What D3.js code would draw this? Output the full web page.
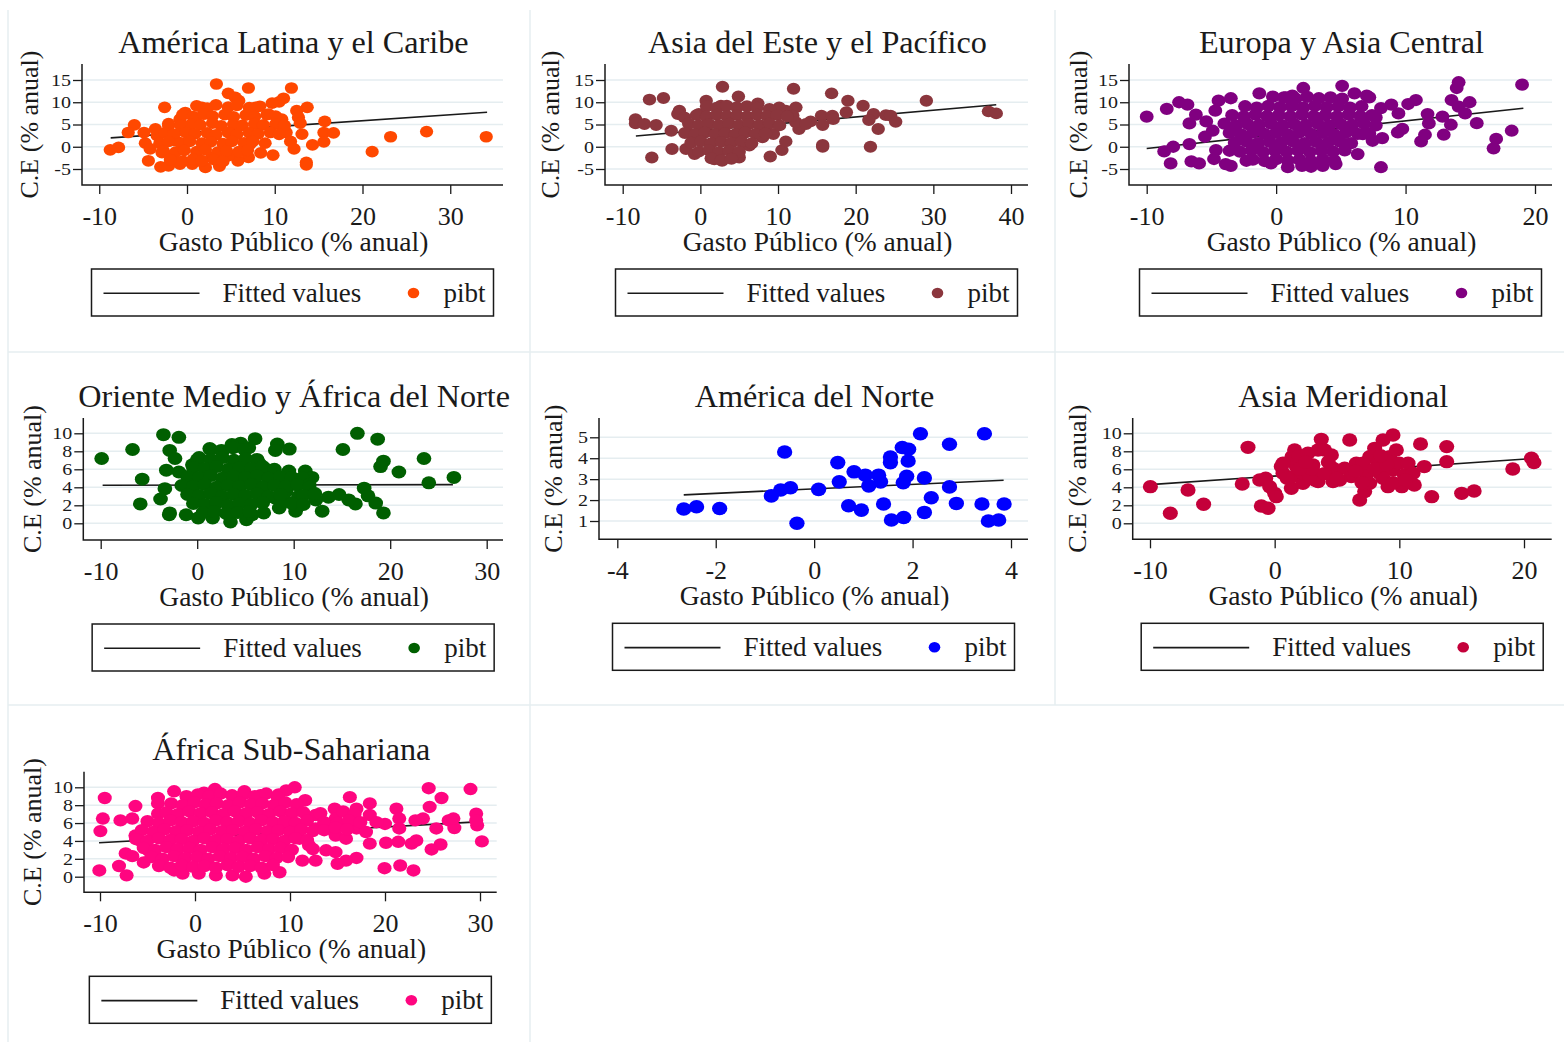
<!DOCTYPE html>
<html>
<head>
<meta charset="utf-8">
<script src="https://cdn.jsdelivr.net/npm/d3@7"></script>
<style>
  body { margin: 0; background: #fff; }
  svg { display: block; font-family: "Liberation Serif", "Times New Roman", serif; }
</style>
</head>
<body>
<svg id="chart" width="1564" height="1042"></svg>
<script>
// ---- data ----
const titles = ["América Latina y el Caribe", "Asia del Este y el Pacífico", "Europa y Asia Central",
  "Oriente Medio y África del Norte", "América del Norte", "Asia Meridional", "África Sub-Sahariana"];
const colors = ["#ff4800", "#8b363d", "#800080", "#005f00", "#0000ff", "#c4003a", "#ff0580"];

const xTicks = [[-10, 0, 10, 20, 30], [-10, 0, 10, 20, 30, 40], [-10, 0, 10, 20],
  [-10, 0, 10, 20, 30], [-4, -2, 0, 2, 4], [-10, 0, 10, 20], [-10, 0, 10, 20, 30]];
const yTicks = [[-5, 0, 5, 10, 15], [-5, 0, 5, 10, 15], [-5, 0, 5, 10, 15],
  [0, 2, 4, 6, 8, 10], [1, 2, 3, 4, 5], [0, 2, 4, 6, 8, 10], [0, 2, 4, 6, 8, 10]];

// fitted line end points
const fits = [[[-8.7, 2.0], [34.2, 7.75]], [[-8.3, 2.4], [38.1, 9.45]], [[-10, -0.4], [19.1, 8.65]],
  [[-9.8, 4.22], [26.5, 4.3]], [[-2.65, 2.25], [3.85, 2.95]], [[-10, 4.3], [20.7, 7.2]], [[-10.1, 3.8], [29.2, 6.1]]];

const latamPts = [[3.35,14.1],[7.0,13.2],[11.9,13.2],[4.7,12.0],[5.5,11.1],[11.0,10.9],[10.5,10.1],[9.7,9.8],[-2.55,8.85],[13.7,8.85],
  [12.5,8.1],[12.7,6.6],[12.9,5.3],[15.7,5.7],[-6.0,4.9],[-6.7,3.2],[-7.8,-0.15],[-8.75,-0.7],[15.6,3.2],[16.7,3.1],
  [15.6,1.1],[13.1,2.85],[14.3,0.4],[12.2,-0.5],[11.3,3.2],[11.8,1.2],[13.6,-3.5],[13.6,-4.05],[21.1,-1.1],[23.2,2.25],
  [27.3,3.4],[34.1,2.25],[9.8,-1.9],[8.4,-1.4],[7.0,-2.4],[5.8,-3.15],[3.7,-4.35],[2.1,-4.65],[0.6,-3.9],[-0.8,-3.9],
  [-2.1,-4.3],[-3.0,-4.5],[-4.4,-3.15],[-4.75,0.8],[-4.9,3.2],[-3.4,2.5],[-4.2,-0.5],[-2.85,-1.3],[-1.7,-2.0],[1.3,-3.2],
  [2.85,-2.4],[4.75,-2.0],[7.2,0.6],[7.8,8.85],[5.9,10.35],[1.7,8.85],[-0.2,7.7],[-0.8,6.2],[0.95,5.85],[10.8,6.2],
  [9.3,7.35],[-2.1,4.7],[-3.6,4.0],[-0.6,3.6],[-1.3,1.35],
  [1.1,9.2],[2.3,8.7],[3.3,9.4],[4.7,8.9],[5.7,9.3],[7.1,8.8],[8.3,9.1],
  [-0.5,7.2],[0.7,6.8],[1.9,7.3],[2.9,6.9],[4.3,7.2],[5.3,6.7],[6.7,7.1],[7.7,6.8],[9.1,7.2],[10.1,6.9],
  [-2.1,5.2],[-0.7,4.8],[0.5,5.1],[1.5,4.9],[2.9,5.3],[3.9,4.7],[5.3,5.1],[6.3,4.8],[7.7,5.2],[8.7,4.9],[10.1,5.1],[11.1,4.8],
  [-2.5,3.1],[-1.5,2.8],[-0.1,3.2],[0.9,2.9],[2.3,3.1],[3.3,2.7],[4.7,3.2],[5.7,2.8],[7.1,3.1],[8.1,2.9],[9.5,3.2],[10.5,2.8],
  [-3.1,0.8],[-2.1,1.2],[-0.7,0.9],[0.3,1.2],[1.7,0.8],[2.7,1.1],[4.1,0.7],[5.1,1.2],[6.5,0.9],[7.5,1.2],[8.9,0.8],
  [-2.7,-0.9],[-1.3,-1.2],[-0.3,-0.8],[1.1,-1.1],[2.1,-0.7],[3.5,-1.2],[4.5,-0.9],[5.9,-1.1],[6.9,-0.8],
  [-1.9,-2.9],[-0.5,-3.2],[0.7,-2.8],[1.7,-3.1],[3.1,-2.9],[4.1,-3.3]];

const eapPts = [[-8.35,6.2],[-8.35,5.25],[-7.2,5.1],[-6.55,10.6],[-4.75,10.95],[-5.7,4.9],[-6.25,-2.4],[-3.75,3.6],[-3.65,-0.5],[-2.7,8.1],
  [-2.9,7.35],[-2.05,6.6],[-1.85,-0.5],[-0.75,-1.65],[0.75,10.35],[2.85,13.5],[4.9,11.3],[2.65,9.2],[-0.2,7.35],[-1.6,3.2],
  [1.8,-2.8],[2.8,-3.15],[5.0,-2.4],[4.9,-1.8],[6.3,0.25],[8.0,2.1],[9.4,2.85],[9.0,-2.2],[10.5,-0.75],[11.0,1.2],
  [12.0,13.05],[12.3,8.85],[12.7,4.0],[14.2,5.7],[15.6,7.0],[15.75,4.9],[15.75,0.4],[15.75,0.0],[16.9,12.0],[17.0,7.0],
  [17.1,6.2],[18.8,7.75],[19.0,10.35],[20.95,9.2],[22.3,7.35],[21.7,6.0],[21.9,0.0],[22.9,4.0],[23.9,7.1],[24.5,7.0],
  [25.15,5.6],[29.1,10.35],[37.1,7.95],[38.1,7.5],[11.0,8.1],[10.15,8.85],[7.4,9.75],[8.9,8.5],[12.3,5.5],[13.6,5.1],[11.9,7.0],
  [0.8,9.1],[2.1,8.8],[3.4,9.2],[4.7,8.9],[6.0,9.1],[7.3,8.8],
  [-0.5,7.1],[0.8,6.8],[2.1,7.2],[3.4,6.9],[4.7,7.1],[6.0,6.8],[7.3,7.2],[8.6,6.9],[9.9,7.1],[11.2,6.8],
  [-1.5,5.2],[-0.2,4.8],[1.1,5.1],[2.4,4.9],[3.7,5.2],[5.0,4.8],[6.3,5.1],[7.6,4.9],[8.9,5.2],[10.2,4.8],
  [-2.0,3.1],[-0.7,2.8],[0.6,3.2],[1.9,2.9],[3.2,3.1],[4.5,2.8],[5.8,3.2],[7.1,2.9],[8.4,3.0],
  [-1.2,0.9],[0.1,1.2],[1.4,0.8],[2.7,1.1],[4.0,0.9],[5.3,1.2],[6.6,0.8],
  [-0.2,-1.1],[1.1,-0.8],[2.4,-1.2],[3.7,-0.9],[5.0,-1.1],
  [1.4,-2.6],[2.7,-3.0],[4.0,-2.7]];

const ecaPts = [[-10.0,6.75],[-8.45,8.5],[-7.5,10.0],[-6.85,9.45],[-6.2,7.2],[-6.7,5.25],[-8.65,-1.05],[-8.15,-3.75],[-7.95,0.0],[-6.7,0.6],
  [-6.55,-3.3],[-5.95,-3.75],[-5.5,2.25],[-5.4,5.7],[-4.7,8.1],[-4.45,10.35],[-3.5,10.9],[-4.8,-2.75],[-3.9,-3.9],[-3.5,-4.3],
  [-1.3,12.0],[-0.25,11.25],[0.75,11.1],[2.1,13.2],[1.25,11.5],[5.1,13.7],[6.05,12.0],[7.0,11.5],[7.2,11.1],[8.1,8.7],
  [8.9,9.45],[9.45,7.5],[9.75,4.0],[10.2,9.6],[10.8,10.5],[9.4,3.25],[11.2,1.2],[11.5,2.7],[11.7,7.35],[11.8,5.25],
  [12.85,6.75],[12.95,2.7],[13.5,4.95],[13.55,10.5],[13.95,13.2],[14.1,14.5],[14.1,9.0],[14.6,7.5],[14.95,10.0],[15.5,5.3],
  [16.8,-0.35],[17.0,1.75],[18.2,3.6],[19.0,13.95],[8.1,-4.6],[6.3,-1.65],[4.6,-3.9],[3.6,-4.3],[2.7,-4.5],[2.0,-4.3],
  [0.9,-4.6],[-0.4,-3.75],[-2.3,-3.15],[7.45,1.35],[8.2,1.95],[5.4,0.6],[6.7,2.85],[7.7,6.6],[-4.9,3.6],[-4.65,-0.75],[-3.6,-0.9],
  [0.6,11.1],[1.5,10.8],[2.4,11.2],[3.3,10.9],[4.2,11.1],[5.1,10.8],
  [-2.4,9.1],[-1.5,8.8],[-0.6,9.2],[0.3,8.9],[1.2,9.1],[2.1,8.8],[3.0,9.2],[3.9,8.9],[4.8,9.1],[5.7,8.8],[6.6,9.1],
  [-3.4,7.1],[-2.5,6.8],[-1.6,7.2],[-0.7,6.9],[0.2,7.1],[1.1,6.8],[2.0,7.2],[2.9,6.9],[3.8,7.1],[4.7,6.8],[5.6,7.2],[6.5,6.9],[7.4,7.1],
  [-4.0,5.2],[-3.1,4.8],[-2.2,5.1],[-1.3,4.9],[-0.4,5.2],[0.5,4.8],[1.4,5.1],[2.3,4.9],[3.2,5.2],[4.1,4.8],[5.0,5.1],[5.9,4.9],[6.8,5.2],[7.7,4.8],
  [-3.6,3.1],[-2.7,2.8],[-1.8,3.2],[-0.9,2.9],[0.0,3.1],[0.9,2.8],[1.8,3.2],[2.7,2.9],[3.6,3.1],[4.5,2.8],[5.4,3.2],[6.3,2.9],[7.2,3.0],
  [-3.2,0.9],[-2.3,1.2],[-1.4,0.8],[-0.5,1.1],[0.4,0.9],[1.3,1.2],[2.2,0.8],[3.1,1.1],[4.0,0.9],[4.9,1.2],[5.8,0.8],
  [-2.8,-1.1],[-1.9,-0.8],[-1.0,-1.2],[-0.1,-0.9],[0.8,-1.1],[1.7,-0.8],[2.6,-1.2],[3.5,-0.9],[4.4,-1.1],[5.3,-0.8],
  [-1.8,-2.9],[-0.9,-3.2],[0.0,-2.8],[0.9,-3.1],[1.8,-2.9],[2.7,-3.2],[3.6,-2.8],[4.5,-3.1]];

const menaPts = [[-9.9,7.2],[-6.7,8.2],[-5.7,4.9],[-5.9,2.15],[-3.5,9.85],[-1.9,9.55],[-2.85,8.1],[-2.3,7.2],[-3.2,5.9],[-3.35,3.85],
  [-3.8,2.7],[-2.85,1.15],[-2.9,0.95],[-1.9,5.7],[-0.5,6.5],[0.0,7.05],[-1.15,0.95],[0.1,0.6],[1.6,0.6],[3.45,0.15],
  [5.1,0.4],[6.0,9.4],[8.3,8.8],[9.55,8.25],[8.1,8.1],[15.1,8.2],[16.6,10.0],[18.7,9.35],[19.3,6.9],[19.0,6.3],
  [20.9,5.7],[23.5,7.2],[24.0,4.5],[26.6,5.1],[17.3,3.9],[17.7,3.05],[18.5,2.25],[19.3,1.15],[16.4,2.15],[15.7,2.6],
  [14.7,3.2],[13.6,2.9],[12.95,1.35],[10.2,1.35],[8.5,1.7],[6.9,1.15],[5.7,0.95],[11.2,5.8],[11.9,5.1],[10.9,5.05],
  [9.5,5.8],[10.2,4.3],[11.6,4.3],[9.2,3.55],[8.1,4.3],[7.25,5.96],[6.4,6.7],[7.4,5.2],[8.8,4.85],[6.05,4.3],
  [6.7,3.2],[8.1,2.8],[9.2,2.45],[10.5,3.0],[12.3,2.6],[4.5,8.9],[3.6,8.75],[1.4,8.2],[2.6,8.0],[5.35,8.4],
  [1.3,8.3],[2.5,8.1],[3.7,8.4],[4.9,8.2],
  [0.2,7.3],[1.4,7.1],[2.6,7.3],[3.8,7.0],[5.0,7.2],[6.2,7.1],
  [-0.4,6.2],[0.8,6.1],[2.0,6.3],[3.2,6.0],[4.4,6.2],[5.6,6.1],[6.8,6.3],[8.0,6.0],
  [-1.0,5.2],[0.2,5.1],[1.4,5.3],[2.6,5.0],[3.8,5.2],[5.0,5.1],[6.2,5.3],[7.4,5.0],[8.6,5.2],[9.8,5.1],
  [-1.6,4.2],[-0.4,4.1],[0.8,4.3],[2.0,4.0],[3.2,4.2],[4.4,4.1],[5.6,4.3],[6.8,4.0],[8.0,4.2],[9.2,4.1],[10.4,4.3],[11.6,4.0],
  [-1.0,3.2],[0.2,3.1],[1.4,3.3],[2.6,3.0],[3.8,3.2],[5.0,3.1],[6.2,3.3],[7.4,3.0],[8.6,3.2],[11.0,3.1],[12.2,3.3],
  [-0.4,2.2],[0.8,2.1],[2.0,2.3],[3.2,2.0],[4.4,2.2],[5.6,2.1],[6.8,2.3],[9.8,2.2],[11.0,2.1],
  [0.6,1.2],[1.8,1.3],[3.0,1.1],[4.2,1.2],[5.4,1.3]];

const naPts = [[-2.65,1.57],[-2.39,1.68],[-1.92,1.6],[-0.87,2.2],[-0.68,2.48],[-0.48,2.59],[-0.6,4.3],[-0.35,0.89],[0.09,2.51],[0.48,3.79],
  [0.51,2.87],[0.7,1.73],[0.81,3.35],[0.96,1.52],[1.04,3.19],[1.11,2.68],[1.31,3.19],[1.35,2.87],[1.41,1.81],[1.55,4.06],
  [1.55,3.79],[1.57,1.05],[1.79,4.51],[1.81,2.83],[1.82,1.17],[1.88,3.14],[1.91,3.87],[1.92,4.43],[2.16,5.17],[2.24,3.06],
  [2.24,1.41],[2.38,2.11],[2.75,4.67],[2.75,2.63],[2.89,1.84],[3.41,1.81],[3.46,5.17],[3.54,1.0],[3.75,1.05],[3.86,1.81]];

const sasPts = [[-9.97,4.07],[-8.37,1.11],[-6.95,3.7],[-5.7,2.11],[-2.6,4.37],[-2.14,8.44],[-1.07,1.93],[-0.53,1.67],[-1.2,4.81],[-0.72,5.0],
  [-0.4,4.07],[0.0,3.33],[0.13,2.96],[0.53,6.3],[0.67,5.56],[1.34,3.89],[1.39,7.4],[1.6,8.15],[1.74,6.3],[1.47,5.19],
  [2.27,4.44],[2.27,5.56],[1.95,7.48],[2.67,7.78],[3.07,6.48],[3.21,4.81],[3.48,8.15],[3.74,9.33],[4.0,8.15],[4.55,7.6],
  [3.61,5.37],[3.48,4.63],[4.68,6.11],[4.68,4.63],[5.61,6.11],[6.02,9.26],[6.15,5.19],[6.55,6.67],[6.82,2.59],[7.22,3.52],
  [7.35,5.37],[7.62,7.4],[8.02,8.33],[8.29,6.67],[7.62,4.44],[8.42,5.56],[8.69,9.26],[9.09,4.07],[9.22,7.4],[9.49,9.81],
  [9.76,8.15],[9.49,5.93],[10.0,6.67],[10.2,4.07],[10.4,5.37],[10.7,6.67],[11.1,5.56],[11.2,4.26],[11.7,8.81],[12.0,6.3],
  [12.6,2.96],[13.8,8.52],[13.8,6.85],[15.0,3.33],[16.0,3.59],[19.1,6.04],[20.6,7.22],[20.8,6.74],[8.69,5.0],[7.09,6.67],
  [5.21,4.81],[2.81,5.19],[0.67,6.67],[3.0,6.0],[4.0,5.5],[2.0,6.0],[5.0,5.0],[8.0,6.0],[9.0,6.5],[7.0,4.5],
  [9.5,4.5],[8.5,7.5],[6.5,5.8],[2.5,6.8],[1.0,5.0],[4.3,6.8],[10.5,4.8]];

const ssaPts = [[-9.5,8.8],[-9.7,6.5],[-9.96,5.1],[-10.07,0.7],[-8.0,1.2],[-7.2,0.15],[-7.85,6.3],[-6.6,6.5],[-6.27,7.9],[-6.27,4.6],
  [-7.3,2.6],[-5.4,1.6],[-3.9,8.8],[-3.9,8.2],[-3.9,7.05],[-2.2,9.55],[-0.9,9.0],[0.95,9.4],[2.1,9.8],[5.2,9.55],
  [6.9,9.1],[8.8,9.2],[9.6,9.65],[10.5,10.0],[11.6,8.55],[14.7,7.6],[16.3,8.9],[18.4,8.2],[18.4,6.9],[21.2,7.6],
  [20.0,5.9],[23.2,6.3],[24.6,9.9],[25.95,8.8],[24.7,7.8],[26.7,6.3],[27.3,5.45],[29.0,9.8],[29.6,7.05],[29.7,5.75],
  [30.2,3.95],[25.85,3.6],[24.9,3.05],[23.3,4.05],[22.8,3.7],[21.4,3.9],[20.1,3.8],[18.4,3.7],[19.95,0.95],[21.6,1.25],
  [23.0,0.7],[17.0,2.1],[15.9,1.8],[15.0,1.45],[13.8,2.95],[12.7,1.8],[11.3,1.8],[8.9,0.5],[7.3,0.35],[5.35,0.0],
  [3.95,0.15],[2.2,0.15],[0.4,0.35],[-1.3,0.35],[-2.2,0.7],[-5.6,3.9],[-4.9,2.95],[12.7,6.9],[14.8,6.5],[17.0,7.6],
  [17.0,5.4],[19.1,6.1],[21.5,6.5],[24.0,6.5],[25.4,5.4],[27.2,6.5],[29.6,6.3],[14.8,4.6],[15.9,4.25],[14.8,2.75],
  [12.0,3.5],[11.0,4.25],[12.7,5.4],[9.9,5.4],[18.0,5.0],[21.5,5.4],
  [0.3,9.2],[1.5,9.0],[2.7,9.3],[3.9,9.1],[5.1,9.2],[6.3,9.0],[7.5,9.3],[8.7,8.9],
  [-2.5,8.2],[-1.3,8.0],[-0.1,8.3],[1.1,8.1],[2.3,8.2],[3.5,8.0],[4.7,8.3],[5.9,8.1],[7.1,8.2],[8.3,8.0],[9.5,8.3],[10.7,8.1],
  [-3.0,7.2],[-1.8,7.0],[-0.6,7.3],[0.6,7.1],[1.8,7.2],[3.0,7.0],[4.2,7.3],[5.4,7.1],[6.6,7.2],[7.8,7.0],[9.0,7.3],[10.2,7.1],[11.4,7.2],[13.2,7.1],[15.6,7.3],[16.8,7.0],
  [-5.0,6.2],[-3.8,6.0],[-2.6,6.3],[-1.4,6.1],[-0.2,6.2],[1.0,6.0],[2.2,6.3],[3.4,6.1],[4.6,6.2],[5.8,6.0],[7.0,6.3],[8.2,6.1],[9.4,6.2],[10.6,6.0],[11.8,6.3],[13.6,6.1],[15.0,6.0],[16.2,6.3],[17.4,6.1],
  [-5.6,5.2],[-4.4,5.0],[-3.2,5.3],[-2.0,5.1],[-0.8,5.2],[0.4,5.0],[1.6,5.3],[2.8,5.1],[4.0,5.2],[5.2,5.0],[6.4,5.3],[7.6,5.1],[8.8,5.2],[10.0,5.0],[11.2,5.3],[12.4,5.1],[13.6,5.2],[14.8,5.5],[16.0,5.3],
  [-6.2,4.2],[-5.0,4.0],[-3.8,4.3],[-2.6,4.1],[-1.4,4.2],[-0.2,4.0],[1.0,4.3],[2.2,4.1],[3.4,4.2],[4.6,4.0],[5.8,4.3],[7.0,4.1],[8.2,4.2],[9.4,4.0],[10.6,4.3],[11.8,4.1],
  [-5.4,3.2],[-4.2,3.0],[-3.0,3.3],[-1.8,3.1],[-0.6,3.2],[0.6,3.0],[1.8,3.3],[3.0,3.1],[4.2,3.2],[5.4,3.0],[6.6,3.3],[7.8,3.1],[9.0,3.2],[10.2,3.0],[12.4,3.1],
  [-6.6,2.3],[-4.6,2.2],[-3.4,2.0],[-2.2,2.3],[-1.0,2.1],[0.2,2.2],[1.4,2.0],[2.6,2.3],[3.8,2.1],[5.0,2.2],[6.2,2.0],[7.4,2.3],[8.6,2.1],[9.8,2.2],
  [-3.8,1.2],[-2.6,1.0],[-1.4,1.3],[-0.2,1.1],[1.0,1.2],[2.2,1.0],[3.4,1.3],[4.6,1.1],[5.8,1.2],[7.0,1.0],[8.2,1.3]];

const panels = [latamPts, eapPts, ecaPts, menaPts, naPts, sasPts, ssaPts];

// ---- layout (pixel frames of each panel) ----
const frames = [
  {left: 82, right: 503, top: 64, bottom: 185, xr: [99.25, 450.25], yr: [169, 80], r: 6.3, ytx: 30},
  {left: 605, right: 1028, top: 64, bottom: 185, xr: [622.7, 1011], yr: [169, 80], r: 6.4, ytx: 551},
  {left: 1129, right: 1552, top: 64, bottom: 185, xr: [1146.7, 1535], yr: [169, 80], r: 6.6, ytx: 1079},
  {left: 83.3, right: 503, top: 418, bottom: 540, xr: [100.7, 486.7], yr: [523.3, 433.3], r: 7.0, ytx: 33},
  {left: 599, right: 1028, top: 418, bottom: 539.3, xr: [617.3, 1011], yr: [521, 437.3], r: 7.3, ytx: 554},
  {left: 1132.7, right: 1551.7, top: 418, bottom: 539.3, xr: [1150, 1524], yr: [523.3, 433.3], r: 7.2, ytx: 1078},
  {left: 84, right: 496.7, top: 771.7, bottom: 892.3, xr: [100, 480], yr: [876.7, 787.3], r: 6.7, ytx: 33}
];

const svg = d3.select("#chart");
const ink = "#1a1a1a";

// faint outlines of the combined graph cells
const cellLines = [[8, 10, 8, 1042], [530, 10, 530, 1042], [1055, 10, 1055, 705], [8, 352, 1564, 352], [8, 705, 1564, 705]];
svg.selectAll("line.cell").data(cellLines).enter().append("line")
  .attr("class", "cell")
  .attr("x1", d => d[0]).attr("y1", d => d[1]).attr("x2", d => d[2]).attr("y2", d => d[3])
  .attr("stroke", "#e6eef1").attr("stroke-width", 1.5);

panels.forEach((pts, i) => {
  const f = frames[i];
  const xt = xTicks[i], yt = yTicks[i];
  const x = d3.scaleLinear().domain([xt[0], xt[xt.length - 1]]).range(f.xr);
  const y = d3.scaleLinear().domain([yt[0], yt[yt.length - 1]]).range(f.yr);
  const g = svg.append("g");
  const cx = (f.left + f.right) / 2;

  // gridlines
  g.selectAll("line.grid").data(yt).enter().append("line")
    .attr("x1", f.left).attr("x2", f.right)
    .attr("y1", d => y(d)).attr("y2", d => y(d))
    .attr("stroke", "#e5edf0").attr("stroke-width", 1.5);

  // fitted values
  g.append("path")
    .attr("d", d3.line().x(d => x(d[0])).y(d => y(d[1]))(fits[i]))
    .attr("stroke", ink).attr("stroke-width", 1.6).attr("fill", "none");

  // scatter (markers are a touch wider than tall in the original)
  g.selectAll("ellipse").data(pts).enter().append("ellipse")
    .attr("cx", d => x(d[0])).attr("cy", d => y(d[1]))
    .attr("rx", f.r * 1.05).attr("ry", f.r * 0.93).attr("fill", colors[i]);

  // x axis
  const xa = g.append("g").attr("transform", `translate(0,${f.bottom})`)
    .call(d3.axisBottom(x).tickValues(xt).tickFormat(d => d).tickSize(9).tickSizeOuter(0));
  xa.attr("font-size", null).attr("font-family", null);
  xa.select(".domain").remove();
  xa.selectAll("line").attr("stroke", ink).attr("stroke-width", 1.3);
  xa.selectAll("text").attr("y", 40).attr("dy", null)
    .attr("font-size", 26).attr("fill", ink);

  // y axis: small labels stretched sideways like the original
  const ya = g.append("g").attr("transform", `translate(${f.left},0)`)
    .call(d3.axisLeft(y).tickValues(yt).tickFormat(d => d).tickSize(9).tickSizeOuter(0));
  ya.attr("font-size", null).attr("font-family", null);
  ya.select(".domain").remove();
  ya.selectAll("line").attr("stroke", ink).attr("stroke-width", 1.3);
  ya.selectAll("text").attr("x", 0).attr("dy", "0.34em")
    .attr("transform", "translate(-11,0) scale(1.25,1)")
    .attr("font-size", 16).attr("fill", ink);

  // axis lines
  g.append("path")
    .attr("d", `M${f.left},${f.top}V${f.bottom}H${f.right}`)
    .attr("stroke", ink).attr("stroke-width", 1.5).attr("fill", "none");

  // titles
  g.append("text").attr("x", cx + 1).attr("y", f.top - 11.5)
    .attr("text-anchor", "middle").attr("font-size", 32.2).attr("fill", ink)
    .text(titles[i]);
  g.append("text").attr("x", cx + 1).attr("y", f.bottom + 65.5)
    .attr("text-anchor", "middle").attr("font-size", 27.5).attr("fill", ink)
    .text("Gasto Público (% anual)");
  const ym = (f.top + f.bottom) / 2;
  g.append("text").attr("transform", `translate(${f.ytx + 8},${ym}) rotate(-90)`)
    .attr("text-anchor", "middle").attr("font-size", 26).attr("fill", ink)
    .text("C.E (% anual)");

  // legend
  const bw = 402, bh = 47;
  const bx = cx - bw / 2, by = f.bottom + 84;
  const lg = g.append("g").attr("transform", `translate(${bx},${by})`);
  lg.append("rect").attr("width", bw).attr("height", bh)
    .attr("fill", "#fff").attr("stroke", ink).attr("stroke-width", 1.5);
  lg.append("line").attr("x1", 12).attr("x2", 108).attr("y1", 24.3).attr("y2", 24.3)
    .attr("stroke", ink).attr("stroke-width", 1.6);
  lg.append("text").attr("x", 131).attr("y", 33).attr("font-size", 27).attr("fill", ink)
    .text("Fitted values");
  lg.append("ellipse").attr("cx", 322).attr("cy", 24).attr("rx", 5.8).attr("ry", 5.2).attr("fill", colors[i]);
  lg.append("text").attr("x", 352).attr("y", 33).attr("font-size", 27).attr("fill", ink)
    .text("pibt");
});
</script>
</body>
</html>
